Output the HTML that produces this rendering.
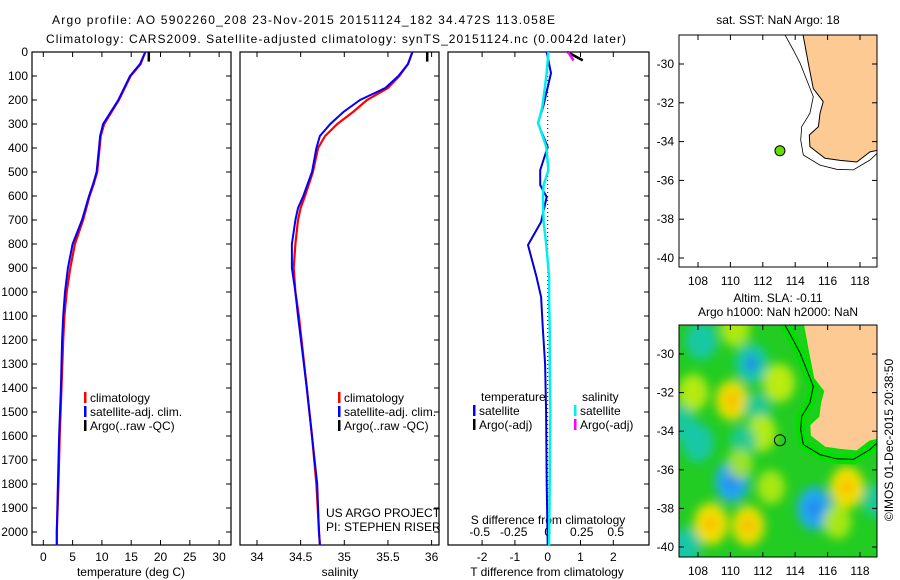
<!DOCTYPE html>
<html><head><meta charset="utf-8"><style>
html,body{margin:0;padding:0;background:#fff;}
svg{display:block;font-family:"Liberation Sans",sans-serif;}
text{font-size:12px;fill:#000;}
</style></head><body>
<svg id="c" width="900" height="580" viewBox="0 0 900 580" xmlns="http://www.w3.org/2000/svg">
<text x="52" y="24" font-size="13.5" textLength="503">Argo profile: AO 5902260_208 23-Nov-2015 20151124_182 34.472S 113.058E</text>
<text x="46" y="43" font-size="13.5" textLength="580">Climatology: CARS2009. Satellite-adjusted climatology: synTS_20151124.nc (0.0042d later)</text>
<text x="778" y="24" text-anchor="middle">sat. SST: NaN Argo: 18</text>
<text x="778" y="302" text-anchor="middle">Altim. SLA: -0.11</text>
<text x="778" y="316" text-anchor="middle">Argo h1000: NaN h2000: NaN</text>
<text transform="translate(893,440) rotate(-90)" text-anchor="middle">©IMOS 01-Dec-2015 20:38:50</text>
<g id="g"></g>
</svg>
<script>
// ---- data ----
const tDepth = [0,50,100,200,300,350,400,500,550,600,700,800,900,1000,1100,1200,1400,1600,1800,2000,2055];
const tBlue  = [17.4,16.5,14.8,12.8,10.2,9.7,9.5,9.1,8.5,7.8,6.6,5.0,4.2,3.7,3.4,3.2,3.0,2.7,2.5,2.3,2.3];
const tRed   = [17.4,16.6,14.9,12.9,10.4,9.8,9.6,9.2,8.6,7.9,6.8,5.4,4.6,4.0,3.6,3.4,3.1,2.8,2.6,2.3,2.3];
const sDepth = [0,50,100,150,200,250,300,350,400,500,600,650,700,800,900,1000,1100,1400,1600,1800,2000,2055];
const sBlue  = [35.78,35.73,35.62,35.47,35.18,34.99,34.84,34.72,34.68,34.63,34.53,34.47,34.44,34.40,34.40,34.44,34.47,34.57,34.63,34.69,34.71,34.72];
const sRed   = [35.78,35.73,35.63,35.50,35.26,35.10,34.92,34.78,34.70,34.64,34.55,34.50,34.47,34.44,34.42,34.44,34.48,34.57,34.63,34.68,34.71,34.72];
const argoDepth = [0,40];
const argoT = [18.0,18.0];
const argoS = [35.95,35.95];
const dDepth = [0,88,229,296,396,492,554,604,708,804,937,1021,1150,1300,1500,1800,2055];
const dT     = [-0.03,0.1,-0.14,-0.3,0,-0.23,-0.23,-0.03,-0.2,-0.6,-0.34,-0.2,-0.15,-0.08,-0.05,-0.03,0];
const dS     = [0.005,-0.007,-0.04,-0.07,-0.01,0.005,-0.03,-0.035,-0.03,-0.01,0.01,0.01,0.015,0.015,0.02,0.015,0.01];
const argoDDepth = [0,35];
const argoDT = [0.6,1.07];
const argoDS = [0.15,0.19];
const depthTicks = [0,100,200,300,400,500,600,700,800,900,1000,1100,1200,1300,1400,1500,1600,1700,1800,1900,2000];
const tTicks = [0,5,10,15,20,25,30];
const sTicks = [34,34.5,35,35.5,36];
const dTTicks = [-2,-1,0,1,2];
const dSTicks = [-0.5,-0.25,0,0.25,0.5];
const lonTicks = [108,110,112,114,116,118];
const latTicks = [-30,-32,-34,-36,-38,-40];
const coastLon = [114.46,114.81,115.12,115.73,115.53,115.43,114.87,114.91,115.84,116.77,117.8,118.62,119.07,119.3,119.3];
const coastLat = [-28.4,-29.96,-31.27,-31.94,-32.54,-33.23,-33.66,-34.26,-34.86,-34.97,-35.05,-34.53,-34.45,-34.45,-28.4];
const shelfLon = [113.37,113.88,114.3,114.71,115.12,114.91,114.4,114.34,114.5,115.53,116.56,117.59,118.62,119.07];
const shelfLat = [-28.5,-29.28,-29.96,-30.82,-31.68,-32.54,-33.23,-33.92,-34.69,-35.21,-35.43,-35.46,-34.95,-34.6];
const floatLon = [113.058];
const floatLat = [-34.472];
// SLA blobs: lon, lat, value (+ yellow, - cyan)
const blobLon = [108.2,111.3,110.3,113.0,107.7,110.1,111.7,107.0,111.9,108.0,110.8,110.1,117.2,115.2,108.8,111.1,107.2,119.0,110.6,112.5,116.6];
const blobLat = [-29.3,-30.5,-28.7,-31.5,-32.0,-32.4,-32.8,-33.6,-34.1,-34.6,-34.5,-36.6,-36.9,-38.0,-38.8,-38.9,-40.0,-37.6,-35.7,-36.9,-38.7];
const blobVal = [-0.8,-0.9,0.6,0.8,0.7,0.9,-0.4,-0.6,0.7,-0.8,-0.4,-1.0,1.0,-1.1,1.0,0.9,-0.8,-0.5,0.3,0.5,0.5];

const NS='http://www.w3.org/2000/svg';
const G=document.getElementById('g');
function el(tag,attrs,parent){const e=document.createElementNS(NS,tag);for(const k in attrs)e.setAttribute(k,attrs[k]);(parent||G).appendChild(e);return e;}
function txt(x,y,s,anchor,parent){const t=el('text',{x:x,y:y,'text-anchor':anchor||'start'},parent);t.textContent=s;return t;}
const yD=d=>52+d*0.24;
const xT=t=>43.3+t*5.86;
const xS=s=>257+(s-34)*87.3;
const xDT=t=>547.7+t*32.8;
const xDS=s=>547.7+s*136;
const mx=lon=>698+(lon-108)*16.2;
const my1=lat=>64+(-30-lat)*19.4;
const my2=lat=>354+(-30-lat)*19.3;
function pts(xs,ys,fx,fy){return xs.map((v,i)=>fx(v).toFixed(1)+','+fy(ys[i]).toFixed(1)).join(' ');}

// panels
const panels=[[32,231,'temperature-panel'],[240,439,'salinity-panel'],[448,649,'difference-panel']];
panels.forEach(p=>{
  const r=el('rect',{x:p[0],y:52,width:p[1]-p[0],height:493,fill:'none',stroke:'#000','stroke-width':1.2});
  
  
  depthTicks.forEach(d=>{
    el('line',{x1:p[1]-5,x2:p[1],y1:yD(d),y2:yD(d),stroke:'#000'});
    if(p[0]===32) el('line',{x1:32,x2:37,y1:yD(d),y2:yD(d),stroke:'#000'});
  });
});
depthTicks.forEach(d=>{const t=txt(28,yD(d)+4,String(d),'end');
  
  });
function xticks(ticks,fx){ticks.forEach(v=>{
  el('line',{x1:fx(v),x2:fx(v),y1:545,y2:540,stroke:'#000'});
  el('line',{x1:fx(v),x2:fx(v),y1:52,y2:57,stroke:'#000'});
  const t=txt(fx(v),561,String(v),'middle');
  
  });}
xticks(tTicks,xT);xticks(sTicks,xS);xticks(dTTicks,xDT);
dSTicks.forEach(v=>{const t=txt(xDS(v),536,String(v),'middle');
  
  });
let a=txt(131,576,'temperature (deg C)','middle');
a=txt(340,576,'salinity','middle');
a=txt(547,576,'T difference from climatology','middle');
a=txt(548,524,'S difference from climatology','middle');
a=txt(326,517,'US ARGO PROJECT');
a=txt(326,531,'PI: STEPHEN RISER');

// zero dotted line
el('line',{x1:xDT(0),x2:xDT(0),y1:60,y2:545,stroke:'#000','stroke-dasharray':'1,3'});

function line(xs,ys,fx,color,w,name){const l=el('polyline',{points:pts(xs,ys,fx,yD),fill:'none',stroke:color,'stroke-width':w});
  }
line(tRed,tDepth,xT,'#ff0000',2.2,'temp-climatology-line');
line(tBlue,tDepth,xT,'#0000ff',2,'temp-satellite-line');
line(argoT,argoDepth,xT,'#000',2.5,'temp-argo-line');
line(sRed,sDepth,xS,'#ff0000',2.2,'sal-climatology-line');
line(sBlue,sDepth,xS,'#0000ff',2,'sal-satellite-line');
line(argoS,argoDepth,xS,'#000',2.5,'sal-argo-line');
line(dT,dDepth,xDT,'#0000dd',2,'t-diff-satellite-line');
line(dS,dDepth,xDS,'#00eeee',2.5,'s-diff-satellite-line');
line(argoDT,argoDDepth,xDT,'#000',2.5,'t-diff-argo-line');
line(argoDS,argoDDepth,xDS,'#ff00ff',2.5,'s-diff-argo-line');

// legends
function leg(x,y,color,label){el('rect',{x:x,y:y-10,width:2.5,height:11,fill:color});
  const t=txt(x+6,y,label);}
[84,338].forEach(x=>{leg(x,402,'#ff0000','climatology');leg(x,416,'#0000ff','satellite-adj. clim.');leg(x,430,'#000','Argo(..raw -QC)');});
a=txt(481,401,'temperature');
a=txt(582,401,'salinity');
leg(473,415,'#0000ff','satellite');leg(473,429,'#000','Argo(-adj)');
leg(574,415,'#00eeee','satellite');leg(574,429,'#ff00ff','Argo(-adj)');

// maps
const defs=el('defs',{});
const clip=el('clipPath',{id:'mc2'},defs);el('rect',{x:679,y:325,width:198,height:232},clip);
const clip1=el('clipPath',{id:'mc1'},defs);el('rect',{x:679,y:35,width:198,height:232},clip1);
const blur=el('filter',{id:'bl',x:'-50%',y:'-50%',width:'200%',height:'200%'},defs);el('feGaussianBlur',{stdDeviation:'5'},blur);

function mapFrame(y0,fy,name){
  const r=el('rect',{x:679,y:y0,width:198,height:232,fill:'none',stroke:'#000'});
  
  lonTicks.forEach(v=>{el('line',{x1:mx(v),x2:mx(v),y1:y0,y2:y0+5,stroke:'#000'});el('line',{x1:mx(v),x2:mx(v),y1:y0+232,y2:y0+227,stroke:'#000'});
    const t=txt(mx(v),y0+250,String(v),'middle');});
  latTicks.forEach(v=>{el('line',{x1:679,x2:684,y1:fy(v),y2:fy(v),stroke:'#000'});el('line',{x1:877,x2:872,y1:fy(v),y2:fy(v),stroke:'#000'});
    const t=txt(674,fy(v)+4,String(v),'end');});
}
// map 1
const g1=el('g',{'clip-path':'url(#mc1)'});
let p=el('polygon',{points:pts(coastLon,coastLat,mx,my1),fill:'#fdca94',stroke:'#000','stroke-width':1},g1);

p=el('polyline',{points:pts(shelfLon,shelfLat,mx,my1),fill:'none',stroke:'#000','stroke-width':0.8},g1);

p=el('circle',{cx:mx(floatLon[0]),cy:my1(floatLat[0]),r:5,fill:'#66dd00',stroke:'#000'});

mapFrame(35,my1,'sst-map');
// map 2
const g2=el('g',{'clip-path':'url(#mc2)'});
el('rect',{x:679,y:325,width:198,height:232,fill:'#22cc22'},g2);
const gb=el('g',{filter:'url(#bl)'},g2);
blobLon.forEach((lon,i)=>{const v=blobVal[i];
  const c=v>0?(v>0.85?'#f0e000':'#c8ee10'):(v<-0.95?'#20a8f0':'#18c8b0');
  const b=el('ellipse',{cx:mx(lon),cy:my2(blobLat[i]),rx:11+Math.abs(v)*6,ry:13+Math.abs(v)*8,fill:c,opacity:Math.min(1,0.6+Math.abs(v)*0.4)},gb);
  
  if(Math.abs(v)>0.85){const k=el('ellipse',{cx:mx(lon),cy:my2(blobLat[i]),rx:6,ry:8,fill:v>0?'#ffb800':'#2080f0'},gb);
    }});
el('polyline',{points:pts(shelfLon,shelfLat,mx,my2),fill:'none',stroke:'#00e000','stroke-width':10},g2);
p=el('polygon',{points:pts(coastLon,coastLat,mx,my2),fill:'#fdca94',stroke:'#00e000','stroke-width':2},g2);

p=el('polyline',{points:pts(shelfLon,shelfLat,mx,my2),fill:'none',stroke:'#000','stroke-width':1},g2);

p=el('circle',{cx:mx(floatLon[0]),cy:my2(floatLat[0]),r:5.5,fill:'none',stroke:'#000'});

mapFrame(325,my2,'sla-map');
</script>
</body></html>
